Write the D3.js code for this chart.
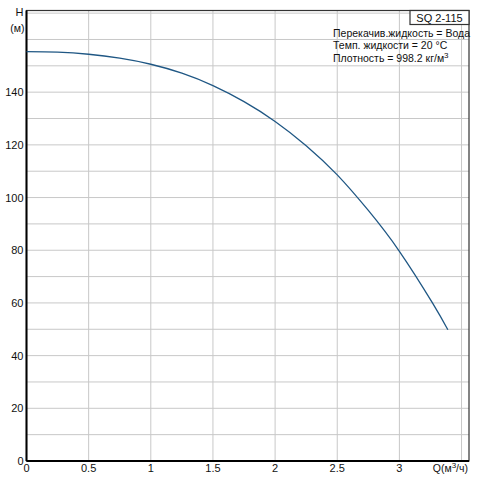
<!DOCTYPE html>
<html>
<head>
<meta charset="utf-8">
<script src="https://cdn.jsdelivr.net/npm/d3@7"></script>
<style>
  body { margin: 0; background: #fff; }
  text { font-family: "Liberation Sans", Arial, sans-serif; fill: #111; }
</style>
</head>
<body>
<div id="chart"></div>
<script>
// pump curve values
const flow = [0, 0.25, 0.5, 0.75, 1, 1.25, 1.5, 1.75, 2, 2.25, 2.5, 2.75, 3, 3.266, 3.39];
const head = [155.4, 155.2, 154.4, 152.9, 150.6, 147.2, 142.5, 136.4, 128.9, 119.7, 108.6, 95.1, 79.6, 60.0, 49.8];

const xTicks = [0, 0.5, 1, 1.5, 2, 2.5, 3];
const xGrid = [0.5, 1, 1.5, 2, 2.5, 3, 3.5];
const yTicks = [0, 20, 40, 60, 80, 100, 120, 140];
const yGrid = d3.range(10, 171, 10);

const title = "SQ 2-115";
const infoLines = ["Перекачив.жидкость = Вода", "Темп. жидкости = 20 °C", "Плотность = 998.2 кг/м"];

function drawChart() {
    const win_width = 491, win_height = 481;
    const margin = {top: 10.5, right: 22, bottom: 20, left: 26.5};
    const width = win_width - margin.left - margin.right;
    const height = win_height - margin.top - margin.bottom;

    let svg = d3.select("#chart")
        .append("svg")
        .attr("width", win_width)
        .attr("height", win_height);

    let g = svg.append("g")
        .attr("transform", "translate(" + margin.left + "," + margin.top + ")");

    let x = d3.scaleLinear().domain([0, 3.56]).range([0, width]);
    let y = d3.scaleLinear().domain([0, 171]).range([height, 0]);

    // grid
    g.append("g").selectAll("line")
        .data(xGrid).enter().append("line")
        .attr("x1", d => x(d)).attr("x2", d => x(d))
        .attr("y1", 0).attr("y2", height)
        .style("stroke", "#c8c8c8").style("stroke-width", 1);
    g.append("g").selectAll("line")
        .data(yGrid).enter().append("line")
        .attr("x1", 0).attr("x2", width)
        .attr("y1", d => y(d)).attr("y2", d => y(d))
        .style("stroke", "#c8c8c8").style("stroke-width", 1);

    // frame
    g.append("rect")
        .attr("x", 0).attr("y", 0)
        .attr("width", width).attr("height", height)
        .attr("fill", "none")
        .style("stroke", "#333").style("stroke-width", 1.2);
    g.append("line")
        .attr("x1", 0).attr("x2", 0).attr("y1", 0).attr("y2", height)
        .style("stroke", "#000").style("stroke-width", 2);
    g.append("line")
        .attr("x1", 0).attr("x2", width).attr("y1", height).attr("y2", height)
        .style("stroke", "#000").style("stroke-width", 2);

    // curve
    const pts = flow.map((q, i) => [q, head[i]]);
    let line = d3.line()
        .x(d => x(d[0]))
        .y(d => y(d[1]))
        .curve(d3.curveNatural);
    g.append("path")
        .datum(pts)
        .attr("d", line)
        .attr("fill", "none")
        .style("stroke", "#1f5784")
        .style("stroke-width", 1.3);

    // tick labels
    g.append("g").selectAll("text")
        .data(yTicks).enter().append("text")
        .attr("x", -3)
        .attr("y", d => y(d) + 4)
        .attr("text-anchor", "end")
        .style("font-size", "11px")
        .text(d => d);
    g.append("g").selectAll("text")
        .data(xTicks).enter().append("text")
        .attr("x", d => x(d))
        .attr("y", height + 11)
        .attr("text-anchor", "middle")
        .style("font-size", "11px")
        .text(d => d);

    // axis titles
    let xt = g.append("text")
        .attr("x", width - 1)
        .attr("y", height + 11)
        .attr("text-anchor", "end")
        .style("font-size", "10.5px");
    xt.append("tspan").text("Q(м");
    xt.append("tspan").attr("dy", -4).style("font-size", "8px").text("3");
    xt.append("tspan").attr("dy", 4).text("/ч)");

    g.append("text")
        .attr("x", -3).attr("y", 5)
        .attr("text-anchor", "end")
        .style("font-size", "11px")
        .text("H");
    g.append("text")
        .attr("x", -2).attr("y", 21)
        .attr("text-anchor", "end")
        .style("font-size", "10.5px")
        .text("(м)");

    // title box
    const bw = 59, bh = 14;
    g.append("rect")
        .attr("x", width - bw).attr("y", 0)
        .attr("width", bw).attr("height", bh)
        .attr("fill", "#fff")
        .style("stroke", "#333").style("stroke-width", 1.2);
    g.append("text")
        .attr("x", width - bw / 2).attr("y", 11)
        .attr("text-anchor", "middle")
        .style("font-size", "11px")
        .text(title);

    let info = g.append("g");
    infoLines.forEach((t, i) => {
        let tx = info.append("text")
            .attr("x", width - 136)
            .attr("y", 26 + i * 12.5)
            .style("font-size", "10.5px")
            .text(t);
        if (i === 2) {
            tx.append("tspan").attr("dy", -4).style("font-size", "8px").text("3");
        }
    });
}
drawChart();
</script>
</body>
</html>
